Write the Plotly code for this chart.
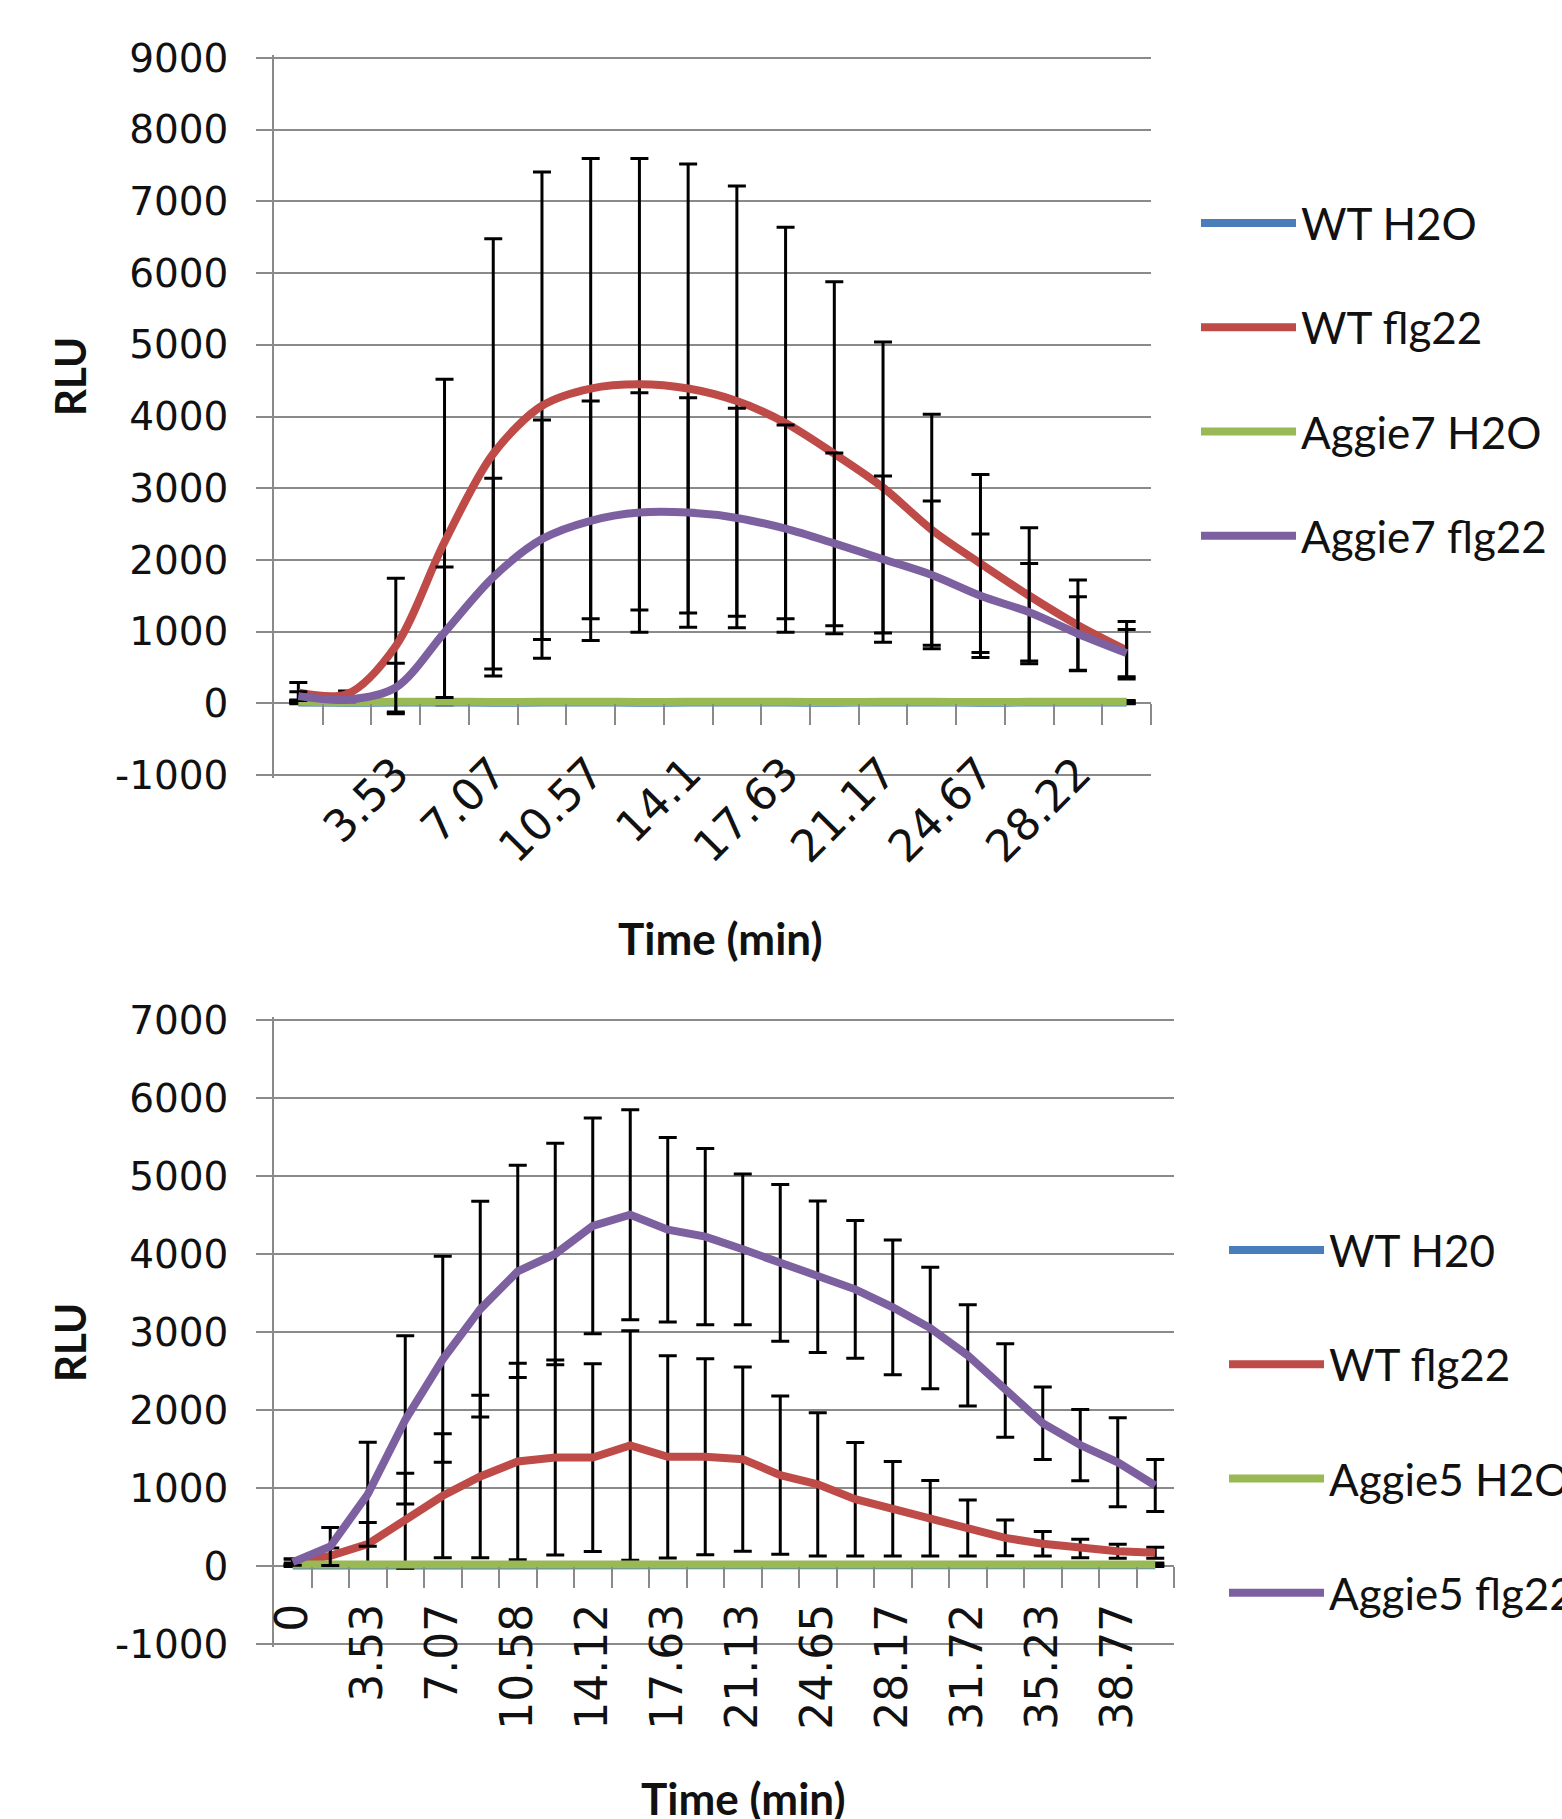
import plotly.graph_objects as go

# ---------------- data: top chart (Aggie7) ----------------
time_top = ["0", "1.77", "3.53", "5.3", "7.07", "8.82", "10.57", "12.33", "14.1",
            "15.87", "17.63", "19.4", "21.17", "22.92", "24.67", "26.45", "28.22", "29.98"]
top_names = ["WT H2O", "WT flg22", "Aggie7 H2O", "Aggie7 flg22"]
wt_h2o_top = [10, 8, 10, 12, 9, 10, 11, 9, 10, 12, 10, 9, 11, 10, 9, 10, 12, 10]
wt_h2o_top_err = [15, 8, 10, 10, 8, 8, 9, 8, 8, 9, 8, 8, 9, 8, 8, 8, 9, 15]
wt_flg22_top = [150, 130, 800, 2250, 3480, 4150, 4390, 4450, 4390, 4215, 3910, 3480,
                3010, 2420, 1950, 1500, 1090, 740]
wt_flg22_top_err = [140, 40, 945, 2270, 3000, 3260, 3210, 3150, 3130, 3000, 2730, 2400,
                    2030, 1610, 1240, 950, 630, 400]
ag7_h2o_top = [25, 15, 20, 22, 18, 20, 21, 19, 20, 22, 20, 18, 21, 20, 19, 20, 22, 20]
ag7_h2o_top_err = [20, 10, 10, 12, 10, 10, 11, 10, 10, 11, 10, 10, 11, 10, 10, 10, 11, 18]
ag7_flg22_top = [100, 50, 220, 990, 1760, 2290, 2545, 2660, 2660, 2585, 2435, 2230,
                 2010, 1790, 1500, 1270, 970, 700]
ag7_flg22_top_err = [60, 30, 340, 910, 1380, 1660, 1670, 1670, 1600, 1530, 1445, 1260,
                     1160, 1030, 860, 680, 515, 330]

# ---------------- data: bottom chart (Aggie5) ----------------
time_bot = ["0", "1.77", "3.53", "5.3", "7.07", "8.83", "10.58", "12.35", "14.12", "15.88",
            "17.63", "19.38", "21.13", "22.9", "24.65", "26.42", "28.17", "29.95", "31.72",
            "33.48", "35.23", "37", "38.77", "40.53"]
bot_names = ["WT H20", "WT flg22", "Aggie5 H2O", "Aggie5 flg22"]
wt_h2o_bot = [5, 8, 10, 9, 10, 11, 9, 10, 12, 10, 9, 11, 10, 9, 10, 12, 10, 9, 10, 11, 10, 9, 10, 10]
wt_h2o_bot_err = [10, 8, 8, 8, 8, 9, 8, 8, 9, 8, 8, 9, 8, 8, 8, 9, 8, 8, 8, 9, 8, 8, 8, 15]
wt_flg22_bot = [50, 130, 280, 580, 900, 1148, 1340, 1390, 1390, 1545, 1400, 1400, 1370,
                1165, 1047, 856, 734, 612, 487, 360, 285, 225, 190, 170]
wt_flg22_bot_err = [40, 100, 278, 610, 795, 1041, 1260, 1250, 1204, 1471, 1297, 1257, 1180,
                    1015, 919, 728, 605, 483, 358, 230, 157, 118, 90, 70]
ag5_h2o_bot = [20, 22, 18, 20, 21, 19, 20, 22, 20, 18, 21, 20, 19, 20, 22, 20, 21, 19, 20,
               22, 20, 18, 21, 20]
ag5_h2o_bot_err = [20, 10, 10, 11, 10, 10, 11, 10, 10, 11, 10, 10, 11, 10, 10, 11, 10, 10,
                   11, 10, 10, 11, 10, 18]
ag5_flg22_bot = [50, 250, 920, 1873, 2650, 3293, 3778, 4000, 4360, 4503, 4311, 4223, 4060,
                 3885, 3708, 3547, 3316, 3050, 2700, 2250, 1830, 1551, 1330, 1032]
ag5_flg22_bot_err = [40, 244, 668, 1079, 1320, 1384, 1361, 1420, 1382, 1346, 1183, 1130, 967,
                     1005, 970, 882, 865, 779, 650, 600, 466, 457, 570, 333]

top_yticks = [-1000, 0, 1000, 2000, 3000, 4000, 5000, 6000, 7000, 8000, 9000]
bot_yticks = [-1000, 0, 1000, 2000, 3000, 4000, 5000, 6000, 7000]

colors = ["#4A7EBB", "#BE4B48", "#98B954", "#7D60A0"]

# ---------------- layout geometry (pixels of the 1562x1819 page) ----------------
W, H = 1562, 1819
PADPX = 3  # extra pixels beyond the end ticks so edge gridlines are drawn
top_px = dict(left=274, right=1151, top=58, bottom=775)
bot_px = dict(left=274, right=1174, top=1020, bottom=1644)


def frame(px, ticks):
    span_px = px["bottom"] - px["top"]
    per_px = (ticks[-1] - ticks[0]) / span_px
    xdom = [px["left"] / W, px["right"] / W]
    ydom = [1 - (px["bottom"] + PADPX) / H, 1 - (px["top"] - PADPX) / H]
    yr = [ticks[0] - PADPX * per_px, ticks[-1] + PADPX * per_px]
    return xdom, ydom, yr


top_xdom, top_ydom, top_yr = frame(top_px, top_yticks)
bot_xdom, bot_ydom, bot_yr = frame(bot_px, bot_yticks)


def zero_pos(dom, rng):
    return dom[0] + (0 - rng[0]) / (rng[1] - rng[0]) * (dom[1] - dom[0])


GRID = "#8a8a8a"
YFONT = dict(family="DejaVu Sans", size=39, color="#111")
fig = go.Figure()

top_idx = list(range(len(time_top)))
bot_idx = list(range(len(time_bot)))

top_series = [(wt_h2o_top, wt_h2o_top_err), (wt_flg22_top, wt_flg22_top_err),
              (ag7_h2o_top, ag7_h2o_top_err), (ag7_flg22_top, ag7_flg22_top_err)]
bot_series = [(wt_h2o_bot, wt_h2o_bot_err), (wt_flg22_bot, wt_flg22_bot_err),
              (ag5_h2o_bot, ag5_h2o_bot_err), (ag5_flg22_bot, ag5_flg22_bot_err)]

for k, (name, (vals, errs)) in enumerate(zip(top_names, top_series)):
    fig.add_trace(go.Scatter(
        x=top_idx, y=vals, name=name, mode="lines",
        line=dict(color=colors[k], width=8, shape="spline", smoothing=0.9),
        error_y=dict(type="data", array=errs, visible=True, color="black",
                     thickness=3, width=9),
        xaxis="x", yaxis="y", legend="legend", legendgroup="t%d" % k))

for k, (name, (vals, errs)) in enumerate(zip(bot_names, bot_series)):
    fig.add_trace(go.Scatter(
        x=bot_idx, y=vals, name=name, mode="lines",
        line=dict(color=colors[k], width=8),
        error_y=dict(type="data", array=errs, visible=True, color="black",
                     thickness=3, width=9),
        xaxis="x3", yaxis="y2", legend="legend2", legendgroup="b%d" % k))

# invisible carriers for the category-boundary tick axes
fig.add_trace(go.Scatter(x=top_idx, y=ag7_h2o_top, xaxis="x2", yaxis="y", mode="lines",
                         opacity=0, showlegend=False, hoverinfo="skip"))
fig.add_trace(go.Scatter(x=bot_idx, y=ag5_h2o_bot, xaxis="x4", yaxis="y2", mode="lines",
                         opacity=0, showlegend=False, hoverinfo="skip"))

top_rng = [-0.5, len(time_top) - 0.5]
bot_rng = [-0.5, len(time_bot) - 0.5]
top_lab_idx = top_idx[2::2]
bot_lab_idx = bot_idx[0::2]

fig.update_layout(
    width=W, height=H,
    margin=dict(l=0, r=0, t=0, b=0, autoexpand=False),
    paper_bgcolor="white", plot_bgcolor="white",
    showlegend=True,
    xaxis=dict(domain=top_xdom, range=top_rng, anchor="free",
               position=zero_pos(top_ydom, top_yr),
               tickvals=top_lab_idx, ticktext=[time_top[i] for i in top_lab_idx],
               tickangle=-45, ticks="", showgrid=False, zeroline=False, showline=False,
               tickfont=dict(family="DejaVu Sans", size=44, color="#111"),
               ticklabelstandoff=34),
    xaxis2=dict(domain=top_xdom, range=top_rng, overlaying="x", anchor="free",
                position=zero_pos(top_ydom, top_yr),
                tickvals=[i + 0.5 for i in top_idx], showticklabels=False,
                ticks="outside", ticklen=21, tickwidth=1.6, tickcolor=GRID,
                showgrid=False, zeroline=False, showline=False),
    yaxis=dict(domain=top_ydom, range=top_yr, anchor="x", tickvals=top_yticks,
               ticktext=[str(v) for v in top_yticks],
               showgrid=True, gridcolor=GRID, gridwidth=1.6, zeroline=False,
               showline=False,
               ticks="outside", ticklen=16, tickwidth=1.6, tickcolor=GRID,
               tickfont=YFONT, ticklabelstandoff=20),
    xaxis3=dict(domain=bot_xdom, range=bot_rng, anchor="free",
                position=zero_pos(bot_ydom, bot_yr),
                tickvals=bot_lab_idx, ticktext=[time_bot[i] for i in bot_lab_idx],
                tickangle=-90, ticks="", showgrid=False, zeroline=False, showline=False,
                tickfont=dict(family="DejaVu Sans", size=44, color="#111"),
                ticklabelstandoff=28),
    xaxis4=dict(domain=bot_xdom, range=bot_rng, overlaying="x3", anchor="free",
                position=zero_pos(bot_ydom, bot_yr),
                tickvals=[i + 0.5 for i in bot_idx], showticklabels=False,
                ticks="outside", ticklen=21, tickwidth=1.6, tickcolor=GRID,
                showgrid=False, zeroline=False, showline=False),
    yaxis2=dict(domain=bot_ydom, range=bot_yr, anchor="x3", tickvals=bot_yticks,
                ticktext=[str(v) for v in bot_yticks],
                showgrid=True, gridcolor=GRID, gridwidth=1.6, zeroline=False,
                showline=False,
                ticks="outside", ticklen=16, tickwidth=1.6, tickcolor=GRID,
                tickfont=YFONT, ticklabelstandoff=20),
    legend=dict(x=1196 / W, y=1 - 188 / H, xanchor="left", yanchor="top",
                font=dict(family="Lato", size=44, color="#111"), itemwidth=95,
                tracegroupgap=44, bgcolor="rgba(0,0,0,0)"),
    legend2=dict(x=1224 / W, y=1 - 1215 / H, xanchor="left", yanchor="top",
                 font=dict(family="Lato", size=44, color="#111"), itemwidth=95,
                 tracegroupgap=54, bgcolor="rgba(0,0,0,0)"),
    annotations=[
        dict(text="<b>RLU</b>", x=70 / W, y=1 - 377 / H, xref="paper", yref="paper",
             xanchor="center", yanchor="middle",
             textangle=-90, showarrow=False, font=dict(family="Lato", size=42, color="#111")),
        dict(text="<b>RLU</b>", x=70 / W, y=1 - 1343 / H, xref="paper", yref="paper",
             xanchor="center", yanchor="middle",
             textangle=-90, showarrow=False, font=dict(family="Lato", size=42, color="#111")),
        dict(text="<b>Time (min)</b>", x=720 / W, y=1 - 938 / H, xref="paper", yref="paper",
             xanchor="center", yanchor="middle",
             showarrow=False, font=dict(family="Lato", size=44, color="#111")),
        dict(text="<b>Time (min)</b>", x=743 / W, y=1 - 1798 / H, xref="paper", yref="paper",
             xanchor="center", yanchor="middle",
             showarrow=False, font=dict(family="Lato", size=44, color="#111")),
    ],
)

# vertical value-axis lines spanning exactly the tick range
for ax, px in (("y", top_px), ("y2", bot_px)):
    pass

fig.update_yaxes(showline=False)
fig.layout.yaxis.update(showline=True, linecolor=GRID, linewidth=1.6)
fig.layout.yaxis2.update(showline=True, linecolor=GRID, linewidth=1.6)

fig.write_html("out.html", config={"displayModeBar": False},
               post_script="document.body.style.margin='0';")
